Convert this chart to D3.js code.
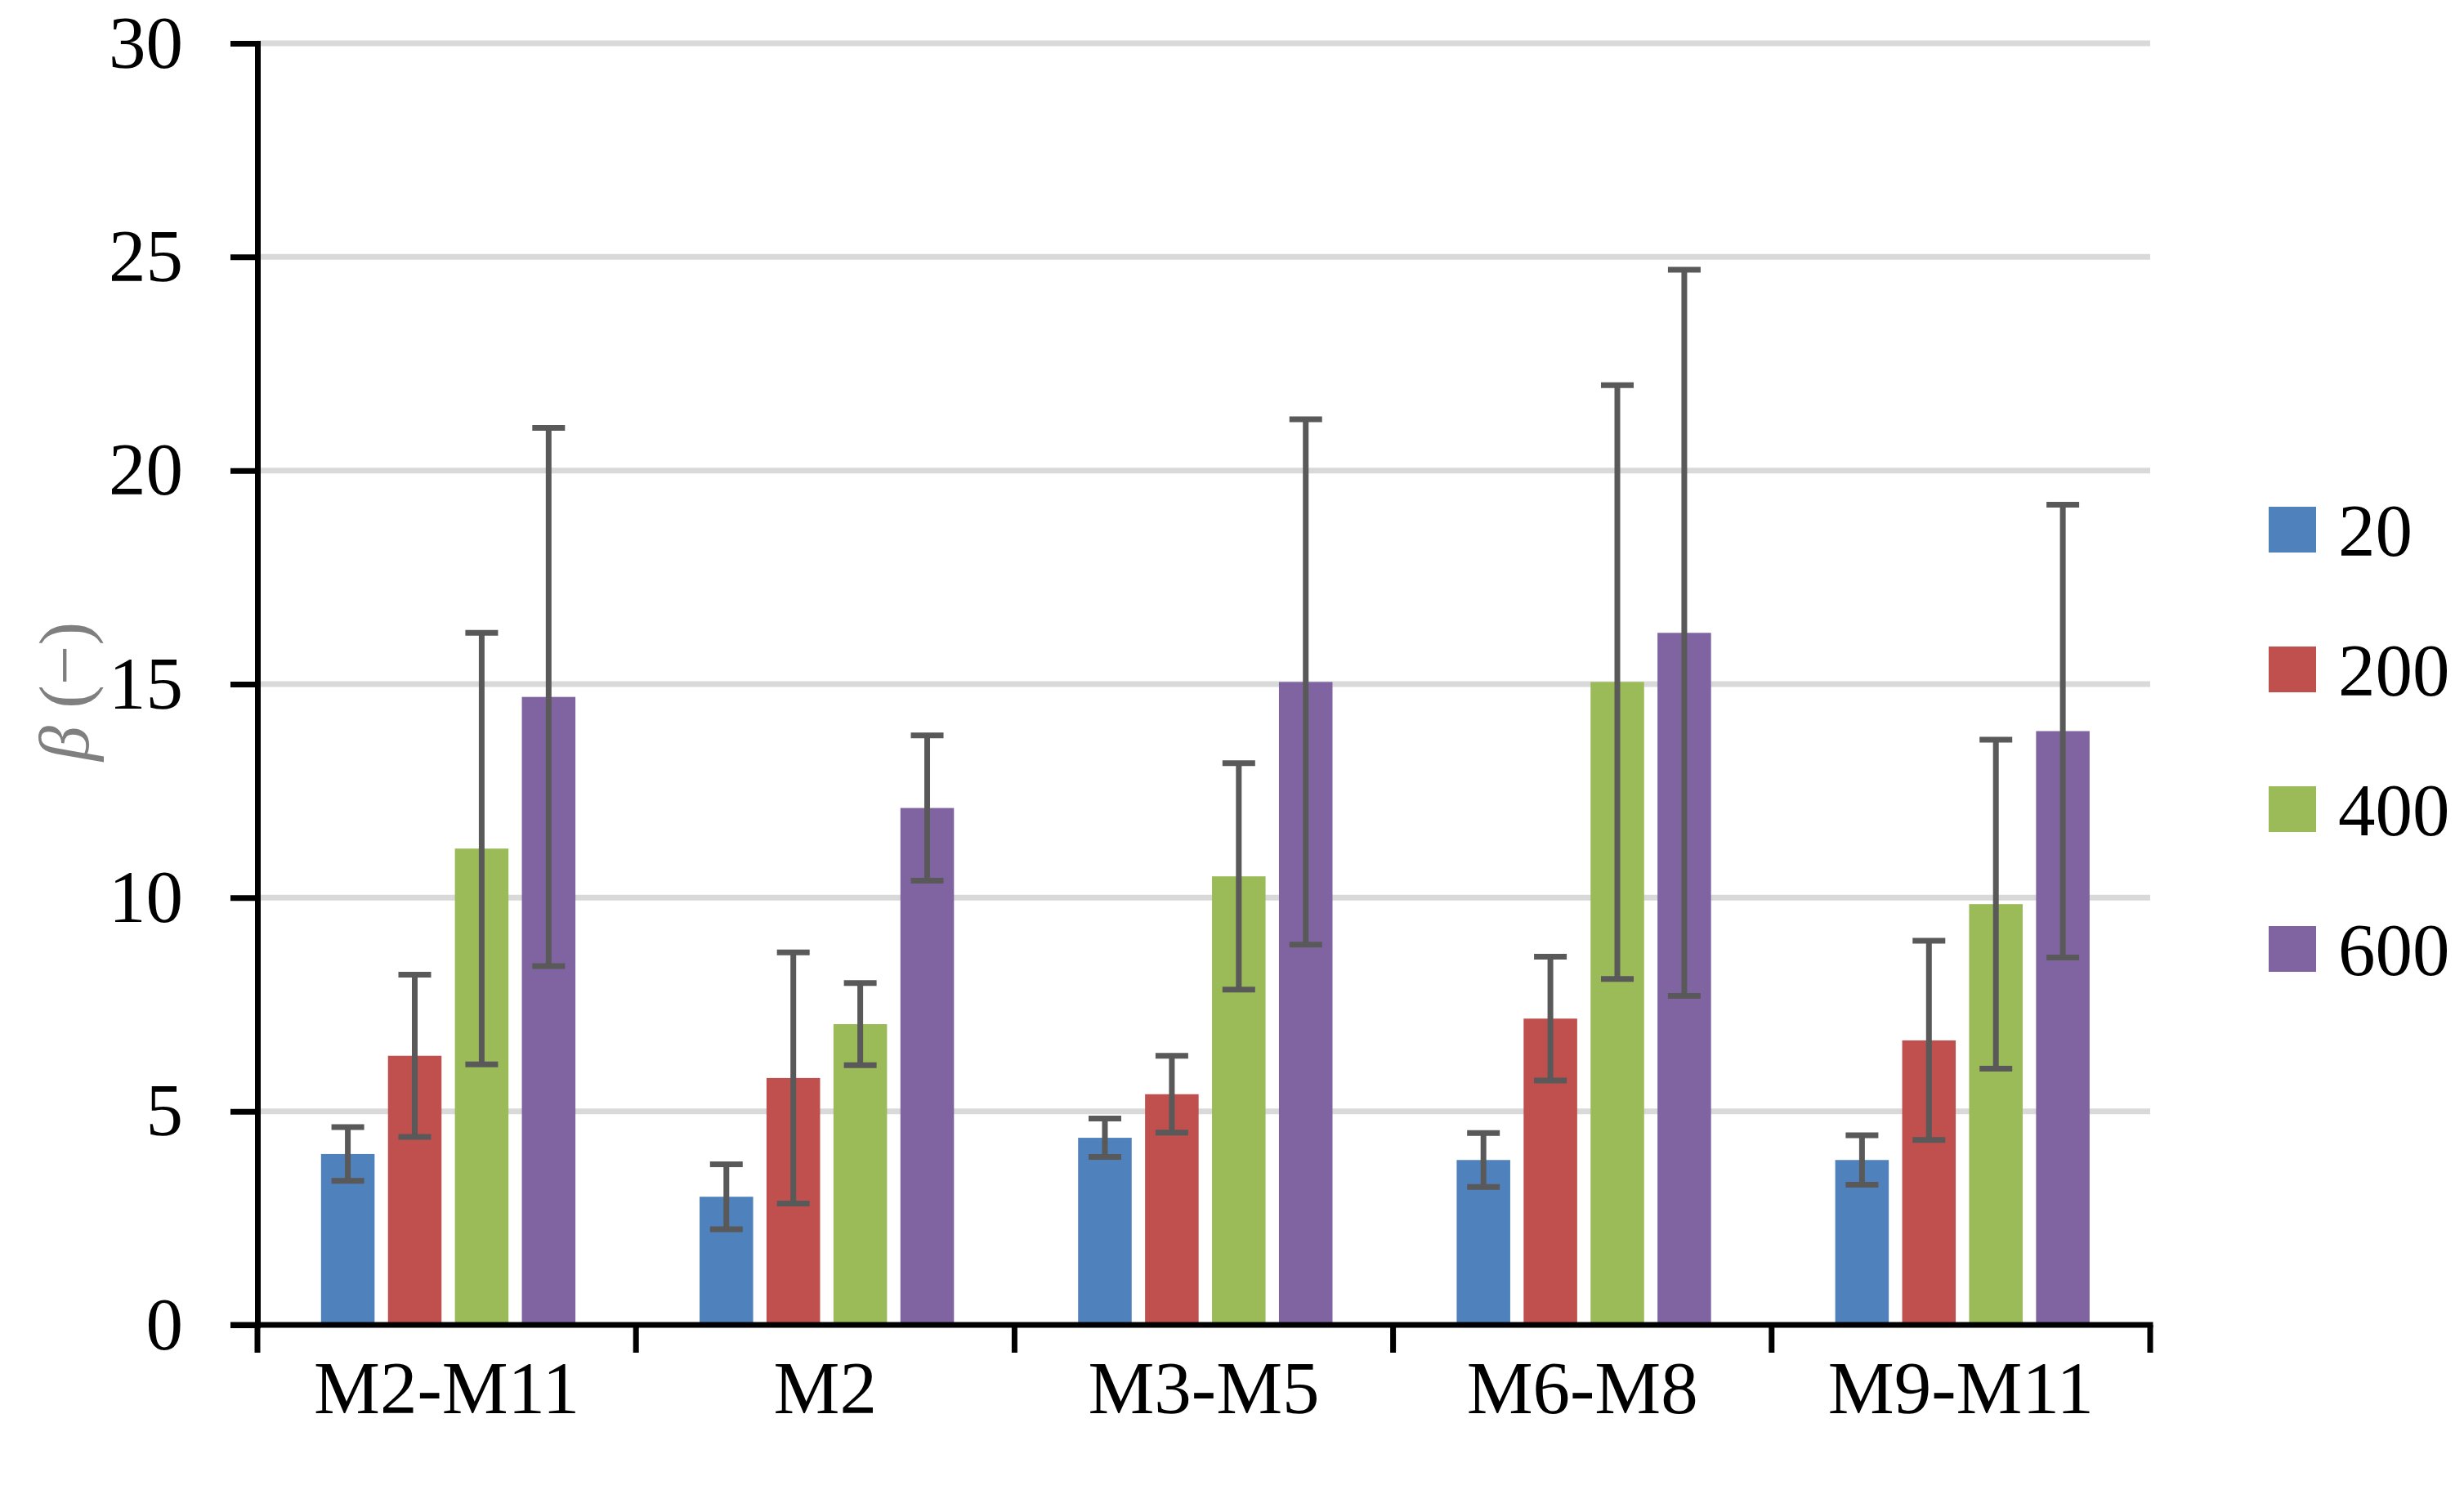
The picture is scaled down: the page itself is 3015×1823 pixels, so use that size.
<!DOCTYPE html>
<html>
<head>
<meta charset="utf-8">
<title>beta bars</title>
<style>
	body { margin:0; padding:0; background:#fff; }
	svg { display:block; }
	text { font-family: "Liberation Serif", "DejaVu Serif", serif; }
</style>
</head>
<body>
<svg id="chart" width="3015" height="1823"></svg>
<script src="https://d3js.org/d3.v7.min.js"></script>
<script>

// data
var categories = ["M2-M11", "M2", "M3-M5", "M6-M8", "M9-M11"];
var seriesNames = ["20", "200", "400", "600"];
var colours = ["#4f81bd", "#c0504d", "#9bbb59", "#8064a2"];

var values20  = [4.0, 3.0, 4.38, 3.86, 3.86];
var values200 = [6.3, 5.78, 5.4, 7.17, 6.66];
var values400 = [11.15, 7.04, 10.5, 15.05, 9.85];
var values600 = [14.7, 12.1, 15.05, 16.2, 13.9];

var err20  = [0.63, 0.76, 0.45, 0.63, 0.58];
var err200 = [1.9, 2.94, 0.9, 1.45, 2.33];
var err400 = [5.05, 0.96, 2.65, 6.95, 3.85];
var err600 = [6.3, 1.7, 6.15, 8.5, 5.3];

var yTicks = [0, 5, 10, 15, 20, 25, 30];

var allValues = [values20, values200, values400, values600];
var allErrors = [err20, err200, err400, err600];

var rows = [];
categories.forEach(function(c, i) {
	seriesNames.forEach(function(s, j) {
		rows.push({cat: c, series: s, idx: j, v: allValues[j][i], e: allErrors[j][i]});
	});
});

var plotLeft = 315, plotRight = 2631, plotTop = 53, plotBottom = 1621;
var fontSize = 91;

var svg = d3.select("#chart");

var x0 = d3.scaleBand().domain(categories).range([plotLeft, plotRight]).padding(0);
var W = x0.bandwidth();
var x1 = d3.scaleBand().domain(seriesNames).range([W * 0.168, W * 0.84]).paddingInner(0.2);
var y = d3.scaleLinear().domain([0, 30]).range([plotBottom, plotTop]);

// griglia
svg.append("g")
	.selectAll("line")
	.data(yTicks.filter(function(d){ return d > 0 }))
	.enter()
	.append("line")
	.attr("x1", plotLeft)
	.attr("x2", plotRight)
	.attr("y1", function(d){ return y(d) })
	.attr("y2", function(d){ return y(d) })
	.style("stroke", "#d9d9d9")
	.style("stroke-width", 7);

// barre
svg.append("g")
	.selectAll("rect")
	.data(rows)
	.enter()
	.append("rect")
	.attr("x", function(d){ return x0(d.cat) + x1(d.series) })
	.attr("y", function(d){ return y(d.v) })
	.attr("width", x1.bandwidth())
	.attr("height", function(d){ return y(0) - y(d.v) })
	.style("fill", function(d){ return colours[d.idx] });

// barre di errore
var capW = 40;
var errG = svg.append("g")
	.selectAll("g")
	.data(rows)
	.enter()
	.append("g")
	.style("stroke", "#595959")
	.style("stroke-width", 7);

function cx(d) { return x0(d.cat) + x1(d.series) + x1.bandwidth() / 2 }

errG.append("line")
	.attr("x1", cx)
	.attr("x2", cx)
	.attr("y1", function(d){ return y(d.v - d.e) })
	.attr("y2", function(d){ return y(d.v + d.e) });

[-1, 1].forEach(function(sign) {
	errG.append("line")
		.attr("x1", function(d){ return cx(d) - capW / 2 })
		.attr("x2", function(d){ return cx(d) + capW / 2 })
		.attr("y1", function(d){ return y(d.v + sign * d.e) })
		.attr("y2", function(d){ return y(d.v + sign * d.e) });
});

// asse y
var yAxis = svg.append("g")
	.attr("transform", "translate(" + plotLeft + ",0)")
	.call(d3.axisLeft(y).tickValues(yTicks).tickSize(33).tickPadding(58).tickFormat(d3.format("d")));

yAxis.select(".domain").style("stroke", "#000").style("stroke-width", 7);
yAxis.selectAll(".tick line").style("stroke", "#000").style("stroke-width", 7);
yAxis.selectAll(".tick text")
	.style("font-size", fontSize + "px")
	.style("fill", "#000")
	.style("font-family", "Liberation Serif");

// asse x: etichette al centro, tacche ai bordi delle categorie
var xAxis = svg.append("g")
	.attr("transform", "translate(0," + plotBottom + ")")
	.call(d3.axisBottom(x0).tickSize(0).tickPadding(43));

xAxis.select(".domain").remove();
xAxis.selectAll(".tick text")
	.style("font-size", fontSize + "px")
	.style("fill", "#000")
	.style("font-family", "Liberation Serif");

svg.append("line")
	.attr("x1", plotLeft - 33)
	.attr("x2", plotRight + 3.5)
	.attr("y1", plotBottom)
	.attr("y2", plotBottom)
	.style("stroke", "#000")
	.style("stroke-width", 7);

svg.append("g")
	.selectAll("line")
	.data(categories.concat(["end"]))
	.enter()
	.append("line")
	.attr("x1", function(d){ return d == "end" ? plotRight : x0(d) })
	.attr("x2", function(d){ return d == "end" ? plotRight : x0(d) })
	.attr("y1", plotBottom)
	.attr("y2", plotBottom + 34)
	.style("stroke", "#000")
	.style("stroke-width", 7);

// titolo asse y
var yTitle = svg.append("text")
	.attr("transform", "translate(78,846) rotate(-90)")
	.attr("text-anchor", "middle")
	.attr("dy", "0.35em")
	.style("font-size", "86px")
	.style("fill", "#7f7f7f");

yTitle.append("tspan").style("font-style", "italic").text("β");
yTitle.append("tspan").text(" (−)");

// legenda
var legend = svg.append("g")
	.selectAll("g")
	.data(seriesNames)
	.enter()
	.append("g")
	.attr("transform", function(d, i){ return "translate(2776," + (648 + i * 171) + ")" });

legend.append("rect")
	.attr("x", 0)
	.attr("y", -28)
	.attr("width", 58)
	.attr("height", 56)
	.style("fill", function(d, i){ return colours[i] });

legend.append("text")
	.attr("x", 85)
	.attr("dy", "0.35em")
	.style("font-size", fontSize + "px")
	.style("fill", "#000")
	.text(function(d){ return d });

</script>
</body>
</html>
